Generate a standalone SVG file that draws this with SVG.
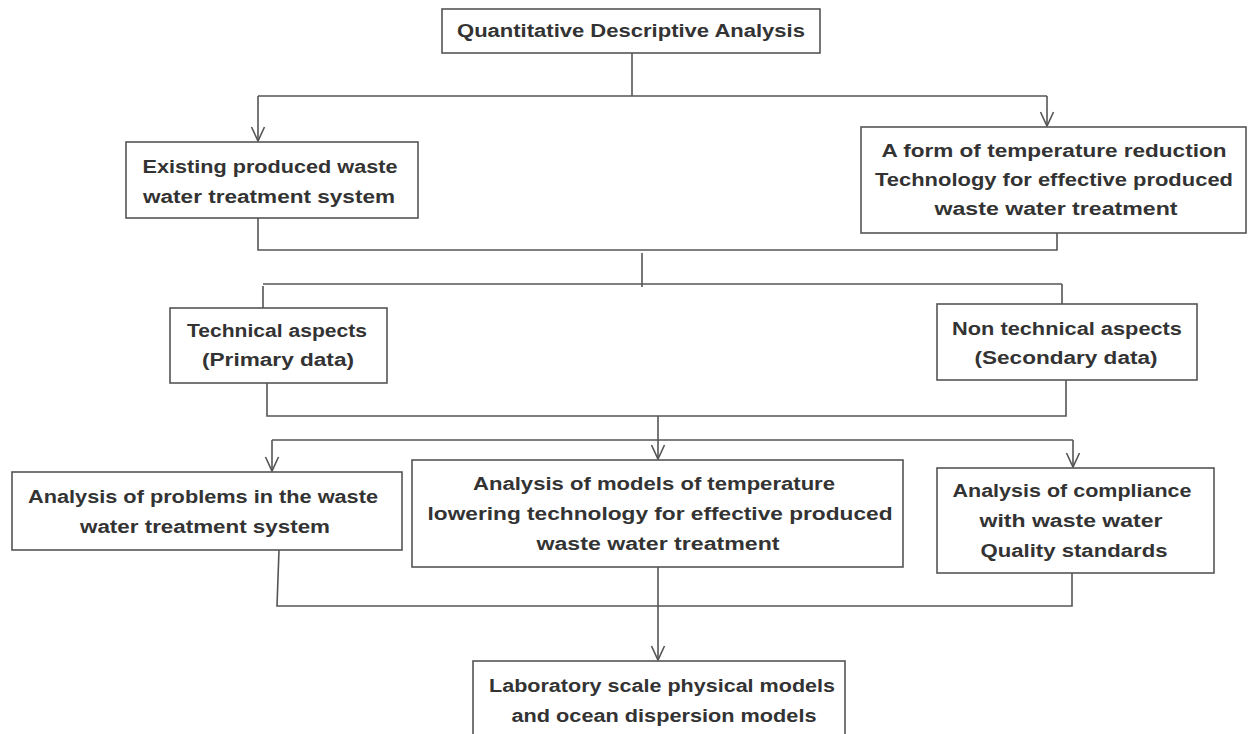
<svg xmlns="http://www.w3.org/2000/svg" width="1248" height="734" viewBox="0 0 1248 734">
<style>
.box{fill:#fff;stroke:#555;stroke-width:1.6}
.ln{fill:none;stroke:#555;stroke-width:1.6}
text{font-family:"Liberation Sans",Arial,sans-serif;font-weight:bold;font-size:18px;fill:#333;text-anchor:middle}
</style>
<defs>
<marker id="arr" markerUnits="userSpaceOnUse" markerWidth="18" markerHeight="16" viewBox="-16 -8 18 16" refX="0" refY="0" orient="auto" overflow="visible">
<path d="M-14,-6.5 L0,0 L-14,6.5" fill="none" stroke="#555" stroke-width="1.6"/>
</marker>
</defs>
<rect width="1248" height="734" fill="#fff"/>
<g id="connectors">
<path class="ln" d="M632,53 V96 M258,96 H1047"/>
<path class="ln" d="M258,96 V141" marker-end="url(#arr)"/>
<path class="ln" d="M1047,96 V126" marker-end="url(#arr)"/>
<path class="ln" d="M258,218 V250 H1057 V233"/>
<path class="ln" d="M642,253 V287 M263,284 H1062 M263,286 V308 M1062,284 V304"/>
<path class="ln" d="M267,383 V416 H1066 V380"/>
<path class="ln" d="M272,440 H1073"/>
<path class="ln" d="M658,416 V459" marker-end="url(#arr)"/>
<path class="ln" d="M272,440 V471" marker-end="url(#arr)"/>
<path class="ln" d="M1073,440 V467" marker-end="url(#arr)"/>
<path class="ln" d="M279,550 L277,606 H1072 V573"/>
<path class="ln" d="M658,567 V660" marker-end="url(#arr)"/>
</g>
<g id="n-qda">
<rect class="box" x="442" y="9" width="378" height="44"/>
<text x="631" y="37" textLength="348" lengthAdjust="spacingAndGlyphs">Quantitative Descriptive Analysis</text>
</g>
<g id="n-existing">
<rect class="box" x="126" y="142" width="292" height="76"/>
<text x="270" y="173" textLength="255" lengthAdjust="spacingAndGlyphs">Existing produced waste</text>
<text x="269" y="203" textLength="252" lengthAdjust="spacingAndGlyphs">water treatment system</text>
</g>
<g id="n-form">
<rect class="box" x="861" y="127" width="385" height="106"/>
<text x="1054" y="157" textLength="345" lengthAdjust="spacingAndGlyphs">A form of temperature reduction</text>
<text x="1054" y="186" textLength="358" lengthAdjust="spacingAndGlyphs">Technology for effective produced</text>
<text x="1056" y="215" textLength="243" lengthAdjust="spacingAndGlyphs">waste water treatment</text>
</g>
<g id="n-technical">
<rect class="box" x="170" y="308" width="217" height="75"/>
<text x="277" y="337" textLength="180" lengthAdjust="spacingAndGlyphs">Technical aspects</text>
<text x="278" y="366" textLength="152" lengthAdjust="spacingAndGlyphs">(Primary data)</text>
</g>
<g id="n-nontechnical">
<rect class="box" x="937" y="304" width="260" height="76"/>
<text x="1067" y="335" textLength="230" lengthAdjust="spacingAndGlyphs">Non technical aspects</text>
<text x="1066" y="364" textLength="183" lengthAdjust="spacingAndGlyphs">(Secondary data)</text>
</g>
<g id="n-problems">
<rect class="box" x="12" y="472" width="390" height="78"/>
<text x="203" y="503" textLength="350" lengthAdjust="spacingAndGlyphs">Analysis of problems in the waste</text>
<text x="205" y="533" textLength="250" lengthAdjust="spacingAndGlyphs">water treatment system</text>
</g>
<g id="n-models">
<rect class="box" x="412" y="460" width="491" height="107"/>
<text x="654" y="490" textLength="362" lengthAdjust="spacingAndGlyphs">Analysis of models of temperature</text>
<text x="660" y="520" textLength="465" lengthAdjust="spacingAndGlyphs">lowering technology for effective produced</text>
<text x="658" y="550" textLength="243" lengthAdjust="spacingAndGlyphs">waste water treatment</text>
</g>
<g id="n-compliance">
<rect class="box" x="937" y="468" width="277" height="105"/>
<text x="1072" y="497" textLength="239" lengthAdjust="spacingAndGlyphs">Analysis of compliance</text>
<text x="1071" y="527" textLength="183" lengthAdjust="spacingAndGlyphs">with waste water</text>
<text x="1074" y="557" textLength="187" lengthAdjust="spacingAndGlyphs">Quality standards</text>
</g>
<g id="n-lab">
<rect class="box" x="473" y="661" width="372" height="90"/>
<text x="662" y="692" textLength="346" lengthAdjust="spacingAndGlyphs">Laboratory scale physical models</text>
<text x="664" y="722" textLength="305" lengthAdjust="spacingAndGlyphs">and ocean dispersion models</text>
</g>
</svg>
